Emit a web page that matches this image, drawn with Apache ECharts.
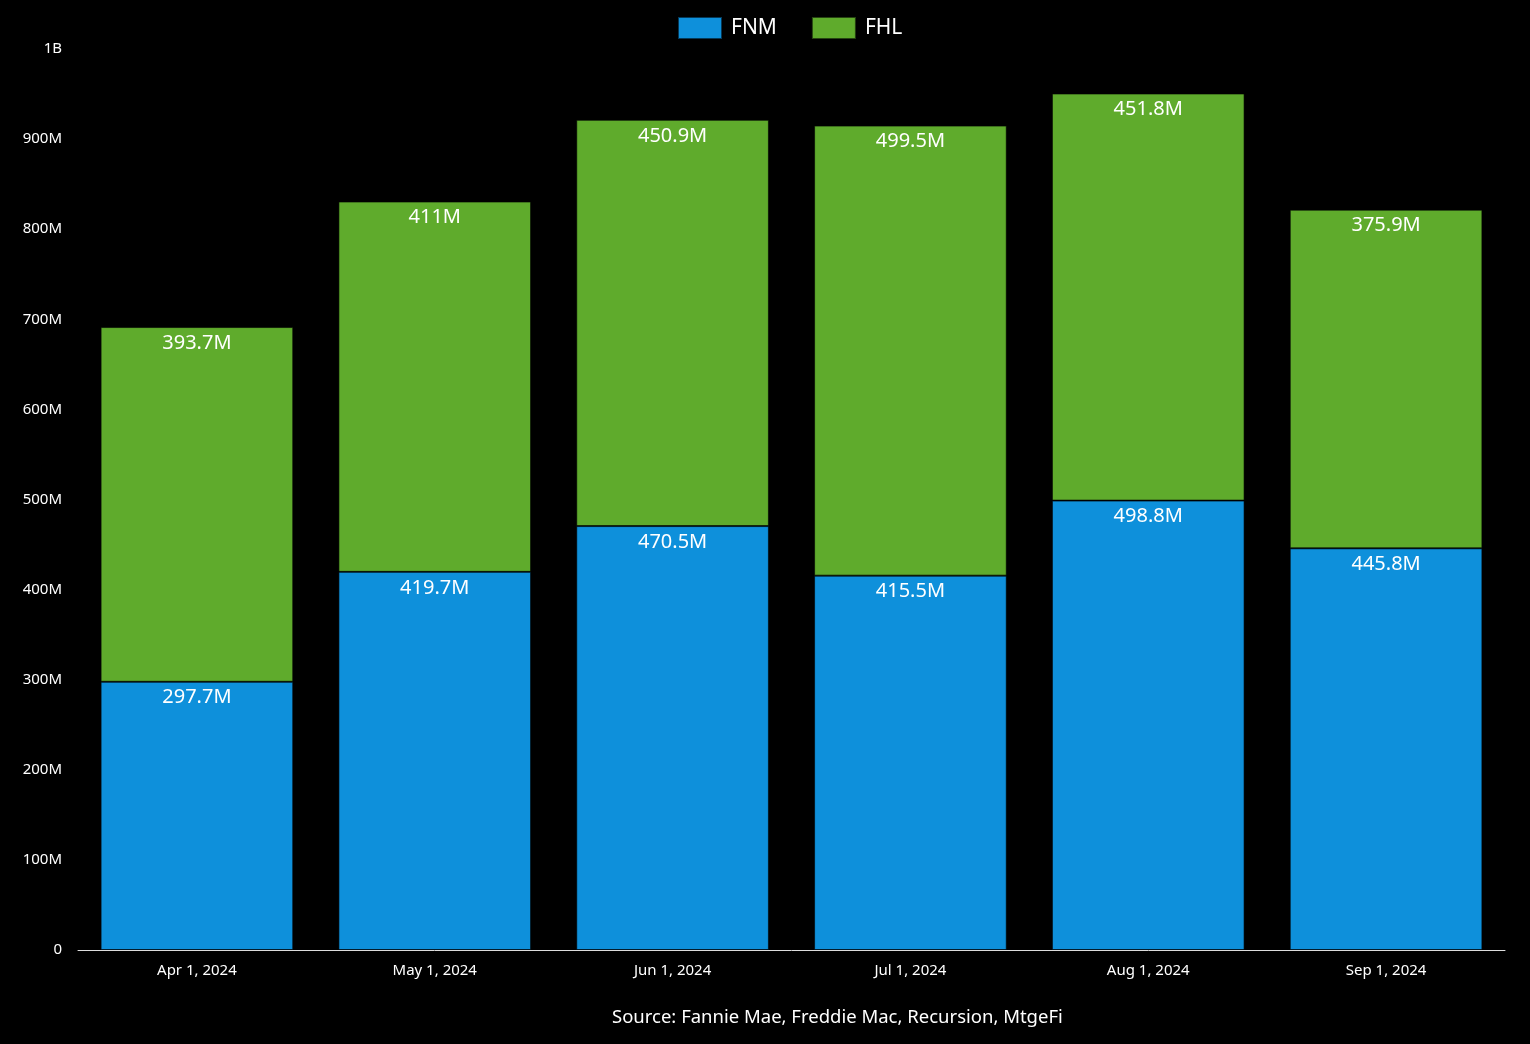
<!DOCTYPE html>
<html><head><meta charset="utf-8">
<script src="https://cdn.jsdelivr.net/npm/echarts@6/dist/echarts.min.js"></script>
<style>html,body{margin:0;padding:0;background:#000;}#c{width:1530px;height:1044px;}</style>
</head><body><div id="c"></div>
<script>
const categories = ['Apr 1, 2024','May 1, 2024','Jun 1, 2024','Jul 1, 2024','Aug 1, 2024','Sep 1, 2024'];
const fnm = [297.7e6, 419.7e6, 470.5e6, 415.5e6, 498.8e6, 445.8e6];
const fhl = [393.7e6, 411e6, 450.9e6, 499.5e6, 451.8e6, 375.9e6];
const sourceText = 'Source: Fannie Mae, Freddie Mac, Recursion, MtgeFi';
const FONT = '"Noto Sans", "Open Sans", sans-serif';
function fmtAxis(v){ if(v===0) return '0'; if(v>=1e9) return (v/1e9)+'B'; return (v/1e6)+'M'; }
function fmtLabel(v){ return (Math.round(v/1e5)/10)+'M'; }
const chart = echarts.init(document.getElementById('c'));
const lbl = {show:true, position:'insideTop', distance:6, color:'#fff', fontSize:20, fontFamily:FONT, formatter:p=>fmtLabel(p.value)};
chart.setOption({
  backgroundColor:'#000',
  animation:false,
  legend:{top:11, left:672, icon:'rect', itemWidth:44, itemHeight:22, itemGap:34,
    textStyle:{color:'#fff', fontSize:21, fontFamily:FONT, padding:[0,0,0,4]}, data:['FNM','FHL']},
  grid:{left:78, right:25, top:49, bottom:94},
  xAxis:{type:'category', data:categories,
    axisLine:{lineStyle:{color:'#ddd', width:1}}, axisTick:{show:false},
    axisLabel:{color:'#fff', fontSize:15, fontFamily:FONT, margin:13}},
  yAxis:{type:'value', min:0, max:1e9, interval:1e8,
    axisLine:{show:false}, axisTick:{show:false}, splitLine:{show:false},
    axisLabel:{color:'#fff', fontSize:15, fontFamily:FONT, margin:16, formatter:fmtAxis}},
  series:[
    {name:'FNM', type:'bar', stack:'t', data:fnm, barCategoryGap:'19%',
      itemStyle:{color:'#0e90db', borderColor:'rgba(0,0,0,0.6)', borderWidth:1}, label:lbl},
    {name:'FHL', type:'bar', stack:'t', data:fhl, barCategoryGap:'19%',
      itemStyle:{color:'#5fab2c', borderColor:'rgba(0,0,0,0.6)', borderWidth:1}, label:lbl}
  ],
  graphic:[{type:'text', left:612, top:1008, style:{text:sourceText, fill:'#fff', fontSize:18.5, fontFamily:FONT}}]
});
</script></body></html>
